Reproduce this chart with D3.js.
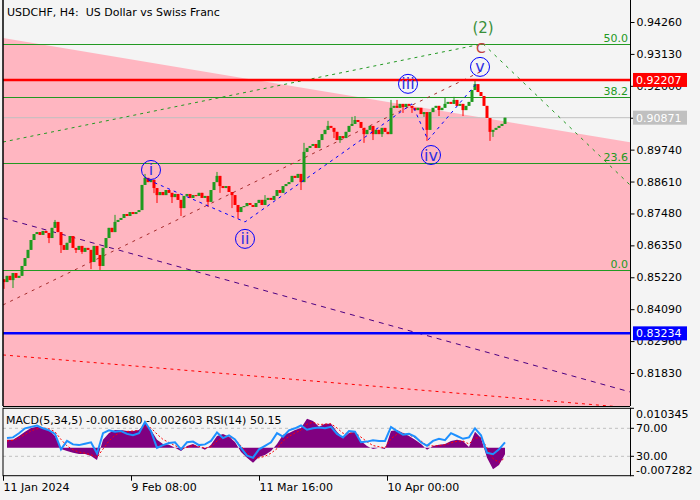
<!DOCTYPE html>
<html><head><meta charset="utf-8">
<script src="https://cdn.jsdelivr.net/npm/d3@7"></script>
<style>
body{margin:0;background:#f4f4f4}
svg{display:block}
text{font-family:"DejaVu Sans",sans-serif;font-size:11px}
</style>
</head><body>
<svg id="c" width="700" height="500"></svg>
<script>
// ---------- DATA ----------
const title = "USDCHF, H4:  US Dollar vs Swiss Franc";
const firstOpen = 0.8515;
// H4 closes, one every 3 bars starting at bar 1
const closes = [
0.8505,0.8527,0.8512,0.8537,0.8520,0.8527,0.8562,0.8590,0.8619,0.8654,
0.8675,0.8682,0.8672,0.8686,0.8679,0.8661,0.8697,0.8718,0.8682,0.8636,
0.8619,0.8644,0.8668,0.8626,0.8619,0.8633,0.8612,0.8626,0.8619,0.8576,
0.8633,0.8601,0.8562,0.8626,0.8661,0.8697,0.8682,0.8718,0.8725,0.8732,
0.8746,0.8739,0.8753,0.8746,0.8753,0.8760,0.8849,0.8874,0.8859,0.8867,
0.8838,0.8813,0.8824,0.8813,0.8831,0.8821,0.8806,0.8817,0.8796,0.8767,
0.8810,0.8817,0.8803,0.8813,0.8810,0.8821,0.8803,0.8810,0.8789,0.8831,
0.8859,0.8881,0.8845,0.8838,0.8845,0.8824,0.8813,0.8778,0.8753,0.8771,
0.8774,0.8785,0.8778,0.8771,0.8785,0.8796,0.8778,0.8796,0.8803,0.8796,
0.8810,0.8831,0.8821,0.8845,0.8852,0.8859,0.8881,0.8874,0.8888,0.8859,
0.8966,0.8980,0.8987,0.8994,0.8980,0.9008,0.9029,0.9044,0.9058,0.9051,
0.9037,0.9008,0.9022,0.9015,0.9037,0.9058,0.9065,0.9079,0.9072,0.9051,
0.9029,0.9044,0.9058,0.9029,0.9044,0.9029,0.9051,0.9037,0.9029,0.9122,
0.9129,0.9122,0.9136,0.9125,0.9136,0.9129,0.9122,0.9114,0.9122,0.9100,
0.9107,0.9044,0.9107,0.9122,0.9129,0.9114,0.9122,0.9136,0.9143,0.9136,
0.9150,0.9129,0.9136,0.9114,0.9129,0.9143,0.9185,0.9206,0.9178,0.9164,
0.9129,0.9086,0.9037,0.9044,0.9051,0.9058,0.9065,0.9087];
const lowSpikes  = {0:0.8481,3:0.8484,15:0.8643,19:0.8608,24:0.8608,26:0.8605,29:0.8551,32:0.8548,
  50:0.8820,51:0.8785,56:0.8785,59:0.8739,68:0.8771,72:0.8821,76:0.8767,78:0.8729,99:0.8831,
  110:0.9015,112:0.8998,120:0.8998,123:0.9008,126:0.9019,133:0.9104,136:0.9104,140:0.9090,
  141:0.9005,145:0.9093,153:0.9093,162:0.9005,163:0.9019};
const highSpikes = {17:0.8725,37:0.8743,47:0.8888,71:0.8895,87:0.8813,100:0.8998,108:0.9076,116:0.9090,117:0.9093,
  129:0.9150,131:0.9150,147:0.9157,150:0.9161,157:0.9221,158:0.9199};

// indicators, one value every 6 bars starting at bar 4
const rsi = [56,57,63,70,72,74,70,67,62,40,
52,47,46,48,50,34,63,67,65,66,
62,60,63,79,66,42,46,49,50,40,
50,51,46,47,52,64,56,60,54,42,
31,28,40,45,50,63,58,67,70,74,
68,70,71,70,72,62,57,66,65,50,
51,53,52,52,72,66,61,62,58,50,
45,52,55,53,63,59,55,57,70,60,
35,33,40,50];
const macd = [0.0021,0.0021,0.0031,0.0042,0.0052,0.0055,0.0052,0.0047,0.0031,-0.0003,
-0.0008,-0.0013,-0.0016,-0.0016,-0.0021,-0.0032,0.0021,0.0039,0.0047,0.0047,
0.0044,0.0044,0.0047,0.0065,0.0047,0.0021,0.0010,0.0008,0.0000,-0.0008,
0.0005,0.0010,0.0002,-0.0005,0.0008,0.0031,0.0036,0.0029,0.0015,-0.0011,
-0.0026,-0.0039,-0.0024,-0.0019,-0.0008,0.0010,0.0034,0.0039,0.0047,0.0052,
0.0076,0.0070,0.0055,0.0063,0.0063,0.0042,0.0026,0.0039,0.0042,0.0018,
0.0005,-0.0003,0.0000,-0.0003,0.0044,0.0047,0.0039,0.0031,0.0021,0.0010,
-0.0005,0.0005,0.0008,0.0010,0.0018,0.0021,0.0018,0.0002,0.0042,0.0026,
-0.0026,-0.0056,-0.0045,-0.0017];
const signal = [0.0018,0.0020,0.0026,0.0035,0.0044,0.0050,0.0052,0.0050,0.0042,0.0022,
0.0005,-0.0005,-0.0011,-0.0014,-0.0018,-0.0025,-0.0003,0.0018,0.0033,0.0041,
0.0043,0.0044,0.0045,0.0056,0.0052,0.0036,0.0022,0.0014,0.0006,-0.0002,
0.0001,0.0006,0.0004,-0.0001,0.0003,0.0018,0.0028,0.0029,0.0022,0.0005,
-0.0012,-0.0027,-0.0026,-0.0022,-0.0014,-0.0002,0.0018,0.0030,0.0039,0.0046,
0.0062,0.0067,0.0061,0.0062,0.0063,0.0052,0.0038,0.0038,0.0040,0.0028,
0.0016,0.0006,0.0003,0.0000,0.0024,0.0036,0.0038,0.0034,0.0027,0.0018,
0.0006,0.0005,0.0006,0.0008,0.0013,0.0017,0.0018,0.0010,0.0026,0.0026,
0.0000,-0.0028,-0.0038,-0.0026];
const indLabel = "MACD(5,34,5) -0.001680 -0.002603 RSI(14) 50.15";
const macdMax = 0.010345, macdMin = -0.007282;

// axes
const yTicks = [0.94260,0.93130,0.92000,0.90870,0.89740,0.88610,0.87480,0.86350,0.85220,0.84090,0.82960,0.81830];
const xTickBars = [0,128,256,384];
const xTickLabels = ["11 Jan 2024","9 Feb 08:00","11 Mar 16:00","10 Apr 00:00"];

// levels
const fibLevels = [0.0,23.6,38.2,50.0];
const fibZero = 0.8548, fibHundred = 1.0148;
const resistance = 0.92207, support = 0.83234, lastPrice = 0.90871;

// trend lines: [bar, price]
const pinkEdge   = [[0,0.9369],[627,0.9000]];
const greenUp    = [[0,0.9001],[480,0.9349]];
const greenDown  = [[480,0.9349],[627,0.8849]];
const brownLine  = [[0,0.8424],[477,0.9249]];
const indigoLine = [[0,0.8732],[627,0.8116]];
const redLower   = [[0,0.8247],[627,0.8060]];
const wavePath   = [[145,0.8867],[242,0.8718],[409,0.9136],[425,0.9008],[473,0.9206]];
const waveLabels = [{t:"i",bar:148,p:0.8902},{t:"ii",bar:242,p:0.8658},{t:"iii",bar:405,p:0.9207},{t:"iv",bar:428,p:0.8955},{t:"v",bar:477,p:0.9267}];
const letterC = {t:"C",bar:478,p:0.9333};
const wave2 = {t:"(2)",bar:480,p:0.9412};

// ---------- LAYOUT ----------
const L = 3, R = 630, T = 0, B = 406, PT = 408.3, PB = 475.7;
const svg = d3.select("#c");
svg.append("rect").attr("width",700).attr("height",500).attr("fill","#f4f4f4");

const x = d3.scaleLinear().domain([0,627]).range([L,R]);
const y = d3.scaleLinear().domain([0.8183,0.9426]).range([373,22]);

svg.append("clipPath").attr("id","mainclip").append("rect").attr("x",L).attr("y",T).attr("width",R-L).attr("height",B-T);
const g = svg.append("g").attr("clip-path","url(#mainclip)");

// pink zone
g.append("path").datum(pinkEdge)
 .attr("d", d3.area().x(d=>x(d[0])).y0(B).y1(d=>y(d[1])))
 .attr("fill","#ffb6c1");

// fib lines
const fibPrice = f => fibZero + (fibHundred-fibZero)*f/100;
fibLevels.forEach(f=>{
  const yy = Math.round(y(fibPrice(f)))+0.5;
  g.append("line").attr("x1",L).attr("x2",R).attr("y1",yy).attr("y2",yy).attr("stroke","#229922").attr("stroke-width",1);
  g.append("text").attr("x",R-2).attr("y",yy-3).attr("text-anchor","end").attr("fill","#229922").text(f.toFixed(1));
});

// last price line
g.append("line").attr("x1",L).attr("x2",R).attr("y1",y(lastPrice)).attr("y2",y(lastPrice)).attr("stroke","#c0c0c0");

// trend lines
const ln = d3.line().x(d=>x(d[0])).y(d=>y(d[1]));
g.append("path").datum(greenUp).attr("d",ln).attr("fill","none").attr("stroke","#229922").attr("stroke-dasharray","3,4");
g.append("path").datum(greenDown).attr("d",ln).attr("fill","none").attr("stroke","#229922").attr("stroke-dasharray","3,5");
g.append("path").datum(brownLine).attr("d",ln).attr("fill","none").attr("stroke","#a52a2a").attr("stroke-dasharray","3,5");
g.append("path").datum(indigoLine).attr("d",ln).attr("fill","none").attr("stroke","#4b0082").attr("stroke-dasharray","5,5");
g.append("path").datum(redLower).attr("d",ln).attr("fill","none").attr("stroke","#ff0000").attr("stroke-dasharray","3,4");

// candles
const candles = closes.map((c,i)=>{
  const o = i===0 ? firstOpen : closes[i-1];
  let hi = Math.max(o,c), lo = Math.min(o,c);
  if (highSpikes[i]!==undefined) hi = Math.max(hi, highSpikes[i]);
  if (lowSpikes[i]!==undefined) lo = Math.min(lo, lowSpikes[i]);
  return {bar:1+3*i,o,c,hi,lo};
});
const cg = g.append("g");
candles.forEach(d=>{
  const col = d.c>d.o ? "#1f9a1f" : (d.c<d.o ? "#ff0000" : "#000");
  const xx = x(d.bar);
  cg.append("rect").attr("x",xx-0.5).attr("width",1).attr("y",y(d.hi)).attr("height",Math.max(1,y(d.lo)-y(d.hi))).attr("fill",col);
  cg.append("rect").attr("x",xx-1.5).attr("width",3).attr("y",y(Math.max(d.o,d.c))).attr("height",Math.max(1,Math.abs(y(d.o)-y(d.c)))).attr("fill",col);
});

// wave path
g.append("path").datum(wavePath).attr("d",ln).attr("fill","none").attr("stroke","#0000ff").attr("stroke-dasharray","3,4");

// horizontal S/R lines
g.append("line").attr("x1",L).attr("x2",R).attr("y1",y(resistance)).attr("y2",y(resistance)).attr("stroke","#ff0000").attr("stroke-width",2.5);
g.append("line").attr("x1",L).attr("x2",R).attr("y1",y(support)).attr("y2",y(support)).attr("stroke","#0000ff").attr("stroke-width",2.5);

// wave labels
waveLabels.forEach(w=>{
  const cx = x(w.bar), cy = y(w.p);
  g.append("circle").attr("cx",cx).attr("cy",cy).attr("r",9.5).attr("fill","none").attr("stroke","#0000ff").attr("stroke-width",1);
  g.append("text").attr("x",cx).attr("y",cy+5.5).attr("text-anchor","middle").attr("fill","#3030e0").style("font-size","16px").text(w.t);
});
g.append("text").attr("x",x(letterC.bar)).attr("y",y(letterC.p)+5).attr("text-anchor","middle").attr("fill","#c04040").style("font-size","14px").text(letterC.t);
g.append("text").attr("x",x(wave2.bar)).attr("y",y(wave2.p)+7).attr("text-anchor","middle").attr("fill","#3a8f3a").style("font-size","15px").text(wave2.t);

// title
svg.append("text").attr("x",7).attr("y",16).attr("fill","#000").style("white-space","pre").attr("xml:space","preserve").text(title);

// frame
svg.append("line").attr("x1",L).attr("x2",L).attr("y1",T).attr("y2",B).attr("stroke","#000").attr("stroke-width",1.5);
svg.append("line").attr("x1",R+0.5).attr("x2",R+0.5).attr("y1",T).attr("y2",B).attr("stroke","#000");
svg.append("line").attr("x1",L).attr("x2",R).attr("y1",B+0.5).attr("y2",B+0.5).attr("stroke","#000");

// right axis
const ya = svg.append("g").attr("transform",`translate(${R+0.5},0)`)
  .call(d3.axisRight(y).tickValues(yTicks).tickSize(4).tickPadding(2).tickFormat(d3.format(".5f")));
ya.select(".domain").remove();
ya.selectAll("text").attr("fill","#000").style("font-size","11px").style("font-family","DejaVu Sans");

// price boxes
function priceBox(v,fill){
  const yy = y(v);
  svg.append("rect").attr("x",633).attr("y",yy-7).attr("width",54).attr("height",14).attr("fill",fill);
  svg.append("text").attr("x",636).attr("y",yy+4).attr("fill","#fff").text(v.toFixed(5));
}
priceBox(resistance,"#ff0000");
priceBox(lastPrice,"#c0c0c0");
priceBox(support,"#0000ff");

// ---------- INDICATOR PANEL ----------
const my = d3.scaleLinear().domain([macdMin,macdMax]).range([PB,PT]);
const ry = d3.scaleLinear().domain([30,70]).range([456.3,428.3]);
const indBar = k => 4+6*k;
svg.append("clipPath").attr("id","pclip").append("rect").attr("x",L).attr("y",PT).attr("width",R-L).attr("height",PB-PT);
const pg = svg.append("g").attr("clip-path","url(#pclip)");
[70,30].forEach(v=>{
  pg.append("line").attr("x1",L).attr("x2",R).attr("y1",ry(v)).attr("y2",ry(v)).attr("stroke","#c0c0c0").attr("stroke-dasharray","3,3");
});
pg.append("path").datum(macd)
  .attr("d",d3.area().x((d,k)=>x(indBar(k))).y0(my(0)).y1(d=>my(d)))
  .attr("fill","#800080");
pg.append("path").datum(signal)
  .attr("d",d3.line().x((d,k)=>x(indBar(k))).y(d=>my(d)))
  .attr("fill","none").attr("stroke","#ff0000").attr("stroke-dasharray","2,2");
pg.append("path").datum(rsi)
  .attr("d",d3.line().x((d,k)=>x(indBar(k))).y(d=>ry(d)))
  .attr("fill","none").attr("stroke","#1e90ff").attr("stroke-width",2);
svg.append("rect").attr("x",L).attr("y",PT).attr("width",R-L+0.5).attr("height",PB-PT).attr("fill","none").attr("stroke","#000");
svg.append("text").attr("x",6).attr("y",424).attr("fill","#000").text(indLabel);

// indicator right labels
const indTicks = [{y:my(macdMax),t:"0.010345"},{y:ry(70),t:"70.00"},{y:ry(30),t:"30.00"},{y:my(macdMin),t:"-0.007282"}];
indTicks.forEach((d,i)=>{
  svg.append("line").attr("x1",R).attr("x2",R+4).attr("y1",d.y).attr("y2",d.y).attr("stroke","#000");
  const ty = i===0 ? d.y+10 : (i===3 ? d.y-2 : d.y+4);
  svg.append("text").attr("x",636).attr("y",ty).attr("fill","#000").text(d.t);
});

// bottom axis
const xa = svg.append("g").attr("transform",`translate(0,${PB})`)
  .call(d3.axisBottom(x).tickValues(xTickBars).tickSize(5).tickPadding(3).tickFormat((d,i)=>xTickLabels[i]));
xa.select(".domain").remove();
xa.selectAll("text").attr("text-anchor","start").attr("fill","#000").style("font-size","11px").style("font-family","DejaVu Sans");
</script>
</body></html>
